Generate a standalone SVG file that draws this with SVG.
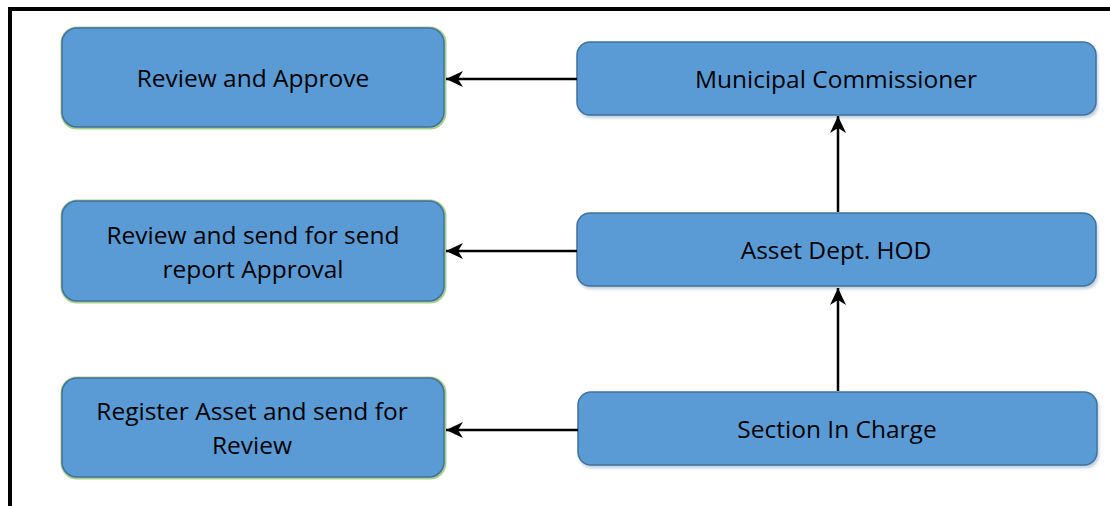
<svg xmlns="http://www.w3.org/2000/svg" width="1110" height="506" viewBox="0 0 1110 506">
  <style>
    .halo { fill: none; stroke: #a9d18e; stroke-width: 3; }
    .box { fill: #5b9bd5; stroke: #41719c; stroke-width: 1.5; }
    .shade { fill: #41719c; opacity: 0.35; filter: url(#soft); }
    .label { font-family: "Open Sans", "Liberation Sans", sans-serif; font-size: 24.5px; fill: #000; text-anchor: middle; }
    .wire { stroke: #000; stroke-width: 2.5; fill: none; marker-end: url(#head); }
  </style>
  <defs>
    <marker id="head" markerWidth="18" markerHeight="18" viewBox="0 0 18 18" refX="17" refY="9" orient="auto" markerUnits="userSpaceOnUse">
      <path d="M0,1 L17,9 L0,17 L5,9 Z" fill="#000"/>
    </marker>
    <filter id="soft" x="-5%" y="-20%" width="110%" height="140%">
      <feGaussianBlur stdDeviation="1.5"/>
    </filter>
  </defs>

  <rect width="1110" height="506" fill="#fff"/>
  <!-- outer frame -->
  <path d="M10,506 V9 H1110" fill="none" stroke="#000" stroke-width="4"/>

  <!-- action boxes (left column) -->
  <g id="review-approve">
    <rect class="halo" x="62" y="28" width="383" height="100" rx="15"/>
    <rect class="box" x="62" y="28" width="382" height="99" rx="15"/>
    <text class="label" x="253" y="87">Review and Approve</text>
  </g>
  <g id="review-send">
    <rect class="halo" x="62" y="201" width="383" height="101" rx="15"/>
    <rect class="box" x="62" y="201" width="382" height="100" rx="15"/>
    <text class="label" x="253" y="244">Review and send for send</text>
    <text class="label" x="253" y="278">report Approval</text>
  </g>
  <g id="register-asset">
    <rect class="halo" x="62" y="378" width="383" height="100" rx="15"/>
    <rect class="box" x="62" y="378" width="382" height="99" rx="15"/>
    <text class="label" x="252" y="420">Register Asset and send for</text>
    <text class="label" x="252" y="454">Review</text>
  </g>

  <!-- role boxes (right column) -->
  <g id="municipal-commissioner">
    <rect class="shade" x="578" y="45" width="520" height="73" rx="13"/>
    <rect class="box" x="577" y="42" width="519" height="73" rx="13"/>
    <text class="label" x="836" y="88">Municipal Commissioner</text>
  </g>
  <g id="asset-hod">
    <rect class="shade" x="578" y="216" width="520" height="73" rx="13"/>
    <rect class="box" x="577" y="213" width="519" height="73" rx="13"/>
    <text class="label" x="836" y="259">Asset Dept. HOD</text>
  </g>
  <g id="section-in-charge">
    <rect class="shade" x="579" y="395" width="520" height="73" rx="13"/>
    <rect class="box" x="578" y="392" width="519" height="73" rx="13"/>
    <text class="label" x="837" y="438">Section In Charge</text>
  </g>

  <!-- connectors -->
  <g id="connectors">
    <line class="wire" x1="577" y1="79" x2="446" y2="79"/>
    <line class="wire" x1="577" y1="251" x2="446" y2="251"/>
    <line class="wire" x1="578" y1="430" x2="446" y2="430"/>
    <line class="wire" x1="838" y1="212" x2="838" y2="116"/>
    <line class="wire" x1="838" y1="391" x2="838" y2="288"/>
  </g>
</svg>
